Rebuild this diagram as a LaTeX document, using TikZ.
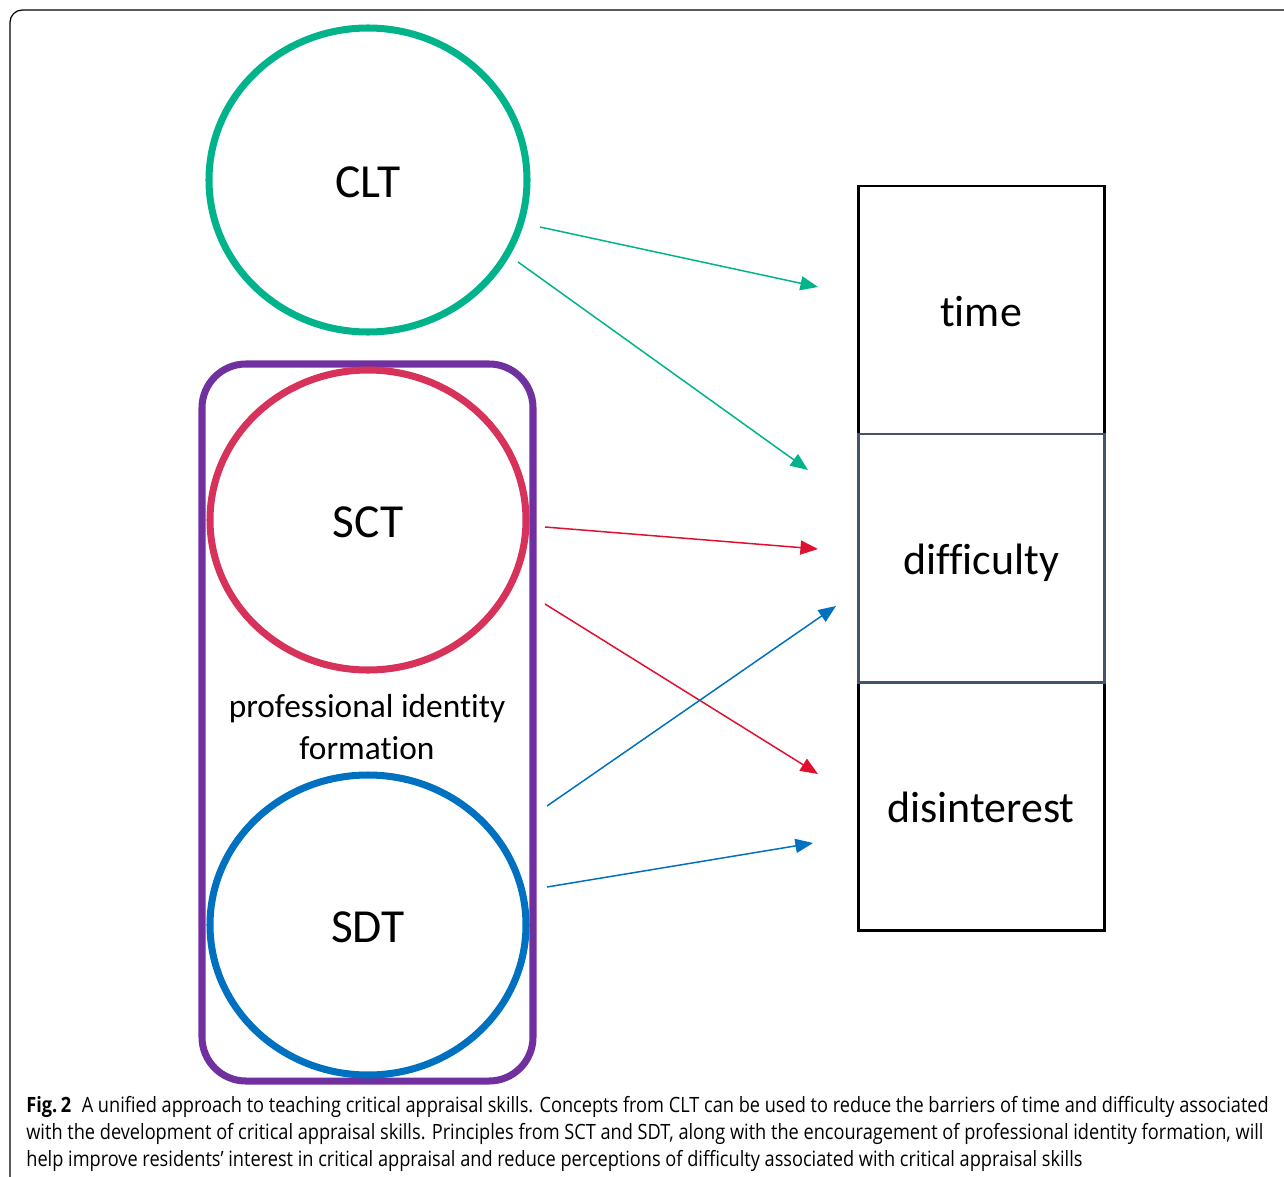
\documentclass[tikz,border=0pt]{standalone}
\usepackage{fontspec}
\setmainfont[Ligatures=NoCommon]{Carlito}
\newfontfamily\capfont[FakeStretch=0.862]{Open Sans}
\usetikzlibrary{arrows.meta}

\definecolor{cltgreen}{RGB}{0,179,138}
\definecolor{sctred}{RGB}{214,50,90}
\definecolor{arrowred}{RGB}{224,16,47}
\definecolor{sdtblue}{RGB}{0,112,192}
\definecolor{pifpurple}{RGB}{112,48,160}
\definecolor{midgrey}{RGB}{68,84,106}

% lower a label a little inside its box, keeping the box size
\newcommand{\lowlabel}[2]{\raisebox{-#1}[\height][\depth]{#2}}

\tikzset{
  theory/.style={line width=4pt},
  barrier/.style={draw, line width=1.7pt, minimum width=246*0.02cm, minimum height=248*0.02cm,
    inner sep=0pt, font=\fontsize{25}{30}\selectfont},
  link/.style={line width=0.85pt, -{Triangle[length=10pt, width=8pt]}}
}

\begin{document}
\begin{tikzpicture}[x=0.02cm, y=-0.02cm]
    \useasboundingbox (0,0) rectangle (1284,1176);

    % Outer frame of the figure (cut at the right and bottom)
    \begin{scope}
      \clip (0,0) rectangle (1284,1176);
      \draw[line width=0.7pt, rounded corners=7pt] (10,10) rectangle (1320,1200);
    \end{scope}

    % Professional identity formation (purple box round SCT and SDT)
    \draw[pifpurple, line width=4pt, rounded corners=25pt] (202,364) rectangle (533,1081);
    \node[font=\fontsize{19}{23.8}\selectfont, align=center] (pif) at (367,727) {professional identity\\formation};

    % The three theories
    \draw[theory, cltgreen] (368,180) ellipse (159 and 152);
    \node[font=\fontsize{27}{32}\selectfont] (clt) at (368,182) {CLT};
    \draw[theory, sctred] (368,520) ellipse (158 and 150);
    \node[font=\fontsize{27}{32}\selectfont] (sct) at (368,522) {SCT};
    \draw[theory, sdtblue] (368,925) ellipse (158 and 150);
    \node[font=\fontsize{27}{32}\selectfont] (sdt) at (368,927) {SDT};

    % The three barriers
    \node[barrier] (time) at (981,310) {\lowlabel{1pt}{time}};
    \node[barrier] (disint) at (981,806) {\lowlabel{1pt}{disinterest}};
    \node[barrier, draw=midgrey] (diff) at (981,558) {\lowlabel{2.5pt}{difficulty}};

    % Arrow end points
    \coordinate (clt1) at (540,227);  \coordinate (time1) at (818,287);
    \coordinate (clt2) at (518,262);  \coordinate (diff1) at (808,470);
    \coordinate (sct1) at (545,527);  \coordinate (diff2) at (818,549);
    \coordinate (sct2) at (545,604);  \coordinate (dis1) at (818,774);
    \coordinate (sdt1) at (547,806);  \coordinate (diff3) at (836,606);
    \coordinate (sdt2) at (547,887);  \coordinate (dis2) at (813,843);

    \draw[link, cltgreen] (clt1) -- (time1);
    \draw[link, cltgreen] (clt2) -- (diff1);
    \draw[link, arrowred] (sct1) -- (diff2);
    \draw[link, arrowred] (sct2) -- (dis1);
    \draw[link, sdtblue] (sdt1) -- (diff3);
    \draw[link, sdtblue] (sdt2) -- (dis2);

    % Caption
    \node[anchor=north west, inner sep=0pt, align=left, font=\capfont\fontsize{12}{15.5}\selectfont] (cap) at (26,1096)
      {\textbf{Fig.\,2}\hspace{0.5em}A unified approach to teaching critical appraisal skills. Concepts from CLT can be used to reduce the barriers of time and difficulty associated\\
       with the development of critical appraisal skills. Principles from SCT and SDT, along with the encouragement of professional identity formation, will\\
       help improve residents’ interest in critical appraisal and reduce perceptions of difficulty associated with critical appraisal skills};

\end{tikzpicture}
\end{document}
